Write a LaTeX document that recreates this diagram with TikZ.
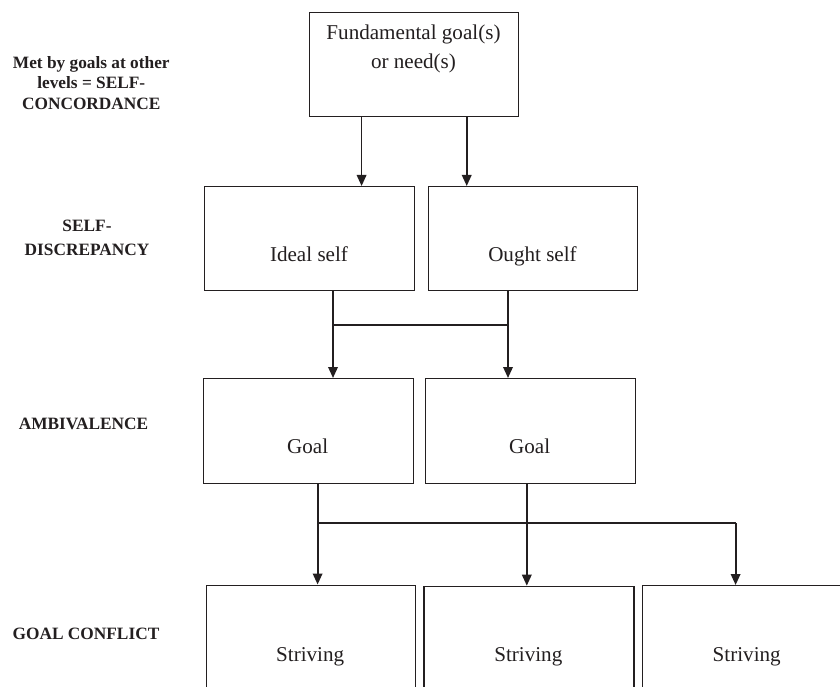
\documentclass[tikz,border=0pt]{standalone}
\usepackage{fontspec}
\setmainfont{Liberation Serif}
\usetikzlibrary{arrows.meta,calc}
\definecolor{ink}{RGB}{35,31,32}
\tikzset{
  box/.style={draw=ink,line width=1.3pt,rectangle,inner sep=0pt,anchor=north west},
  txt/.style={text=ink,inner sep=0pt,anchor=base,font=\fontsize{21.1}{29.2}\selectfont,align=center},
  lvl/.style={text=ink,inner sep=0pt,anchor=base,font=\fontsize{17.3}{20.7}\selectfont\bfseries,align=center},
  conn/.style={draw=ink,line width=1.2pt},
  arr/.style={draw=ink,line width=1.8pt,-{Triangle[length=11pt,width=9.5pt]}},
}
\begin{document}
\begin{tikzpicture}[x=1pt,y=-1pt]
\useasboundingbox (0,0) rectangle (840,687);
\fill[white] (0,0) rectangle (840,687);
\clip (0,0) rectangle (840,687);
% level labels (base = baseline of last line)
\node[lvl] (l1) at (91.3,109.7) {Met by goals at other\\levels = SELF-\\CONCORDANCE};
\node[lvl,font=\fontsize{17.3}{23.7}\selectfont\bfseries] (l2) at (87,255.3) {SELF-\\DISCREPANCY};
\node[lvl] (l3) at (83.5,429.3) {AMBIVALENCE};
\node[lvl] (l4) at (86,639.3) {GOAL CONFLICT};
% boxes
\node[box,minimum width=209pt,minimum height=104pt] (top) at (309,12) {};
\node[box,minimum width=210pt,minimum height=104pt] (ideal) at (204,186) {};
\node[box,minimum width=209pt,minimum height=104pt] (ought) at (428,186) {};
\node[box,minimum width=209.5pt,minimum height=105pt] (goal1) at (203,378) {};
\node[box,minimum width=209.5pt,minimum height=105pt] (goal2) at (425,378) {};
\node[box,minimum width=209pt,minimum height=105pt] (striv1) at (205.7,584.5) {};
\node[box,minimum width=210pt,minimum height=105pt] (striv2) at (423.3,585.7) {};
\node[box,minimum width=210pt,minimum height=105pt] (striv3) at (641.7,585) {};
% box texts
\node[txt] (topt) at (413.5,68.5) {Fundamental goal(s)\\or need(s)};
\node[txt] (idealt) at (309,261.7) {Ideal self};
\node[txt] (oughtt) at (532.5,261.7) {Ought self};
\node[txt] (goal1t) at (307.7,453) {Goal};
\node[txt] (goal2t) at (529.7,453) {Goal};
\node[txt] (striv1t) at (310.2,661) {Striving};
\node[txt] (striv2t) at (528.3,661) {Striving};
\node[txt] (striv3t) at (746.7,661) {Striving};
% junction points
\coordinate (t1) at ($(top.south west)!0.25!(top.south east)$);
\coordinate (t2) at ($(top.south west)!0.75!(top.south east)$);
\coordinate (ja) at (333,325);
\coordinate (jb) at (508,325);
\coordinate (jc) at (317.6,523);
\coordinate (jd) at (526.8,523);
\coordinate (je) at (735.6,523);
% connectors
\draw[arr] (t1) -- (ideal.north -| t1);
\draw[arr] (t2) -- (ought.north -| t2);
\draw[conn] (ideal.south -| ja) -- (ja) -- (jb);
\draw[arr] (ja) -- (goal1.north -| ja);
\draw[arr] (ought.south -| jb) -- (goal2.north -| jb);
\draw[conn] (jc) -- (je);
\draw[arr] (goal1.south -| jc) -- (striv1.north -| jc);
\draw[arr] (goal2.south -| jd) -- (striv2.north -| jd);
\draw[arr] (je) -- (striv3.north -| je);
\end{tikzpicture}
\end{document}
